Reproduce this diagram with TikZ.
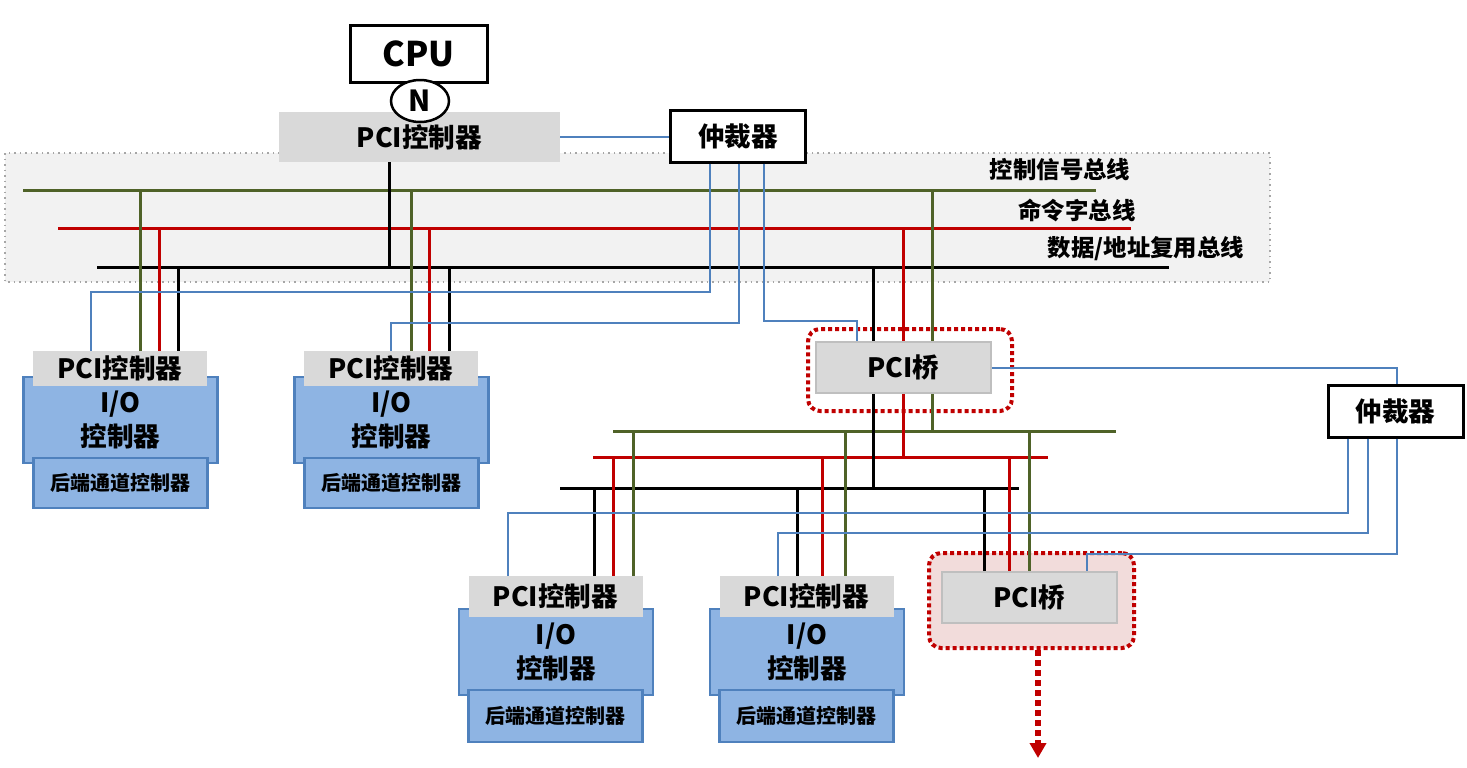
\documentclass[tikz,border=0pt]{standalone}
\usepackage{fontspec}
\setmainfont{Noto Sans CJK SC}
\usetikzlibrary{arrows.meta,shapes.geometric}

\definecolor{busgreen}{HTML}{4F6228}
\definecolor{busred}{HTML}{C00000}
\definecolor{sigblue}{HTML}{4F81BD}
\definecolor{iofill}{HTML}{8EB4E3}
\definecolor{pcgray}{HTML}{D9D9D9}
\definecolor{bggray}{HTML}{F2F2F2}
\definecolor{halopink}{HTML}{F2DCDB}

\begin{document}
\begin{tikzpicture}[x=0.5pt, y=-0.5pt,
	every node/.style={inner sep=0pt, font=\fontsize{13.3}{17}\selectfont\bfseries},
	pcbox/.style={fill=pcgray, minimum width=87pt},
	iobox/.style={fill=iofill, draw=sigblue, line width=1.25pt, minimum width=97pt, minimum height=43pt, align=center},
	backbox/.style={fill=iofill, draw=sigblue, line width=1.25pt, minimum width=87pt, font=\fontsize{10}{12}\selectfont\bfseries},
	bridge/.style={fill=pcgray, draw=black!25, line width=1pt, minimum width=87.5pt, minimum height=25.5pt},
	arbiter/.style={draw, fill=white, line width=1.5pt, minimum width=67.5pt, minimum height=26pt},
	halo/.style={draw=busred, line width=2pt, dash pattern=on 2pt off 1.5pt, rounded corners=6pt},
	buslbl/.style={font=\fontsize{11.7}{14}\selectfont\bfseries},
	gbus/.style={busgreen, line width=1.5pt},
	rbus/.style={busred, line width=1.5pt},
	kbus/.style={black, line width=1.5pt},
	sig/.style={sigblue, line width=1pt}]
	
	\useasboundingbox (0,0) rectangle (1467,767);
	
	% shaded area of the first bus
	\draw[fill=bggray, draw=black!35, line width=0.75pt, dotted] (5,153) rectangle (1270,282);
	
	% marks round the two bridges
	\node[halo, minimum width=102pt, minimum height=41pt] (haloA) at (910,370) {};
	\node[halo, fill=halopink, minimum width=102.5pt, minimum height=47.5pt] (haloB) at (1031.5,600.5) {};
	
	% CPU and host side
	\node[draw, line width=1.5pt, minimum width=68.5pt, minimum height=28.5pt, font=\fontsize{17}{20}\selectfont\bfseries] (cpu) at (418.5,53.5) {CPU};
	\node[pcbox, minimum width=140.5pt, minimum height=25pt] (pcTop) at (419.5,137) {PCI控制器};
	\node[draw, ellipse, fill=white, line width=1.25pt, minimum width=29pt, minimum height=21pt, font=\fontsize{14.5}{16}\selectfont\bfseries] (nport) at (420,101) {N};
	\node[arbiter] (arbA) at (738,136) {仲裁器};
	
	% I/O units on the first bus
	\node[iobox] (ioA) at (120.5,420) {I/O\\控制器};
	\node[pcbox, minimum height=17.5pt] (pcA) at (120,368.5) {PCI控制器};
	\node[backbox, minimum height=25pt] (beA) at (120.5,483) {后端通道控制器};
	\node[iobox] (ioB) at (391.5,420) {I/O\\控制器};
	\node[pcbox, minimum height=17.5pt] (pcB) at (391,368.5) {PCI控制器};
	\node[backbox, minimum height=25pt] (beB) at (391.5,483) {后端通道控制器};
	
	% bridges and second arbiter
	\node[bridge] (bridgeA) at (903.5,367.5) {PCI桥};
	\node[arbiter] (arbB) at (1395.5,411) {仲裁器};
	\node[bridge] (bridgeB) at (1029.5,597.5) {PCI桥};
	
	% I/O units on the second bus
	\node[iobox] (ioC) at (556,652) {I/O\\控制器};
	\node[pcbox, minimum height=20.5pt] (pcC) at (555.5,596.5) {PCI控制器};
	\node[backbox, minimum height=26pt] (beC) at (555.5,716) {后端通道控制器};
	\node[iobox] (ioD) at (807,652) {I/O\\控制器};
	\node[pcbox, minimum height=20.5pt] (pcD) at (806.5,596.5) {PCI控制器};
	\node[backbox, minimum height=26pt] (beD) at (806.5,716) {后端通道控制器};
	
	% bus labels
	\node[buslbl] (lblG) at (1060,170) {控制信号总线};
	\node[buslbl] (lblR) at (1077,210) {命令字总线};
	\node[buslbl] (lblK) at (1146,249) {数据/地址复用总线};
	
	% bus ends
	\coordinate (gT1) at (23,190);   \coordinate (gT2) at (1096,190);
	\coordinate (rT1) at (58,228);   \coordinate (rT2) at (1131,228);
	\coordinate (kT1) at (97,267);   \coordinate (kT2) at (1169,267);
	\coordinate (gB1) at (613,431);  \coordinate (gB2) at (1116,431);
	\coordinate (rB1) at (593,457);  \coordinate (rB2) at (1048,457);
	\coordinate (kB1) at (560,488);  \coordinate (kB2) at (1019,488);
	\coordinate (down) at (1038,758);
	
	% the buses
	\draw[gbus] (gT1) -- (gT2);
	\draw[rbus] (rT1) -- (rT2);
	\draw[kbus] (kT1) -- (kT2);
	\draw[gbus] (gB1) -- (gB2);
	\draw[rbus] (rB1) -- (rB2);
	\draw[kbus] (kB1) -- (kB2);
	
	% taps on the first bus
	\draw[kbus] (389,0 |- pcTop.south) -- (389,0 |- kT1);
	\draw[gbus] (140,0 |- gT1) -- (140,0 |- pcA.north);
	\draw[rbus] (159,0 |- rT1) -- (159,0 |- pcA.north);
	\draw[kbus] (178,0 |- kT1) -- (178,0 |- pcA.north);
	\draw[gbus] (411,0 |- gT1) -- (411,0 |- pcB.north);
	\draw[rbus] (429,0 |- rT1) -- (429,0 |- pcB.north);
	\draw[kbus] (449,0 |- kT1) -- (449,0 |- pcB.north);
	\draw[kbus] (873,0 |- kT1) -- (873,0 |- bridgeA.north);
	\draw[rbus] (903,0 |- rT1) -- (903,0 |- bridgeA.north);
	\draw[gbus] (932,0 |- gT1) -- (932,0 |- bridgeA.north);
	
	% taps on the second bus
	\draw[kbus] (873,0 |- bridgeA.south) -- (873,0 |- kB1);
	\draw[rbus] (903,0 |- bridgeA.south) -- (903,0 |- rB1);
	\draw[gbus] (932,0 |- bridgeA.south) -- (932,0 |- gB1);
	\draw[kbus] (594,0 |- kB1) -- (594,0 |- pcC.north);
	\draw[rbus] (613,0 |- rB1) -- (613,0 |- pcC.north);
	\draw[gbus] (633,0 |- gB1) -- (633,0 |- pcC.north);
	\draw[kbus] (797,0 |- kB1) -- (797,0 |- pcD.north);
	\draw[rbus] (822,0 |- rB1) -- (822,0 |- pcD.north);
	\draw[gbus] (845,0 |- gB1) -- (845,0 |- pcD.north);
	\draw[kbus] (984,0 |- kB1) -- (984,0 |- bridgeB.north);
	\draw[rbus] (1009,0 |- rB1) -- (1009,0 |- bridgeB.north);
	\draw[gbus] (1029,0 |- gB1) -- (1029,0 |- bridgeB.north);
	
	% arbitration lines
	\draw[sig] (pcTop.east) -- (pcTop.east -| arbA.west);
	\draw[sig] (710,0 |- arbA.south) |- (91,292) -- (91,0 |- pcA.north);
	\draw[sig] (739,0 |- arbA.south) |- (391,323) -- (391,0 |- pcB.north);
	\draw[sig] (764,0 |- arbA.south) |- (857,321) -- (857,0 |- bridgeA.north);
	\draw[sig] (bridgeA.east) -| (1397,0 |- arbB.north);
	\draw[sig] (1348,0 |- arbB.south) |- (508,513) -- (508,0 |- pcC.north);
	\draw[sig] (1368,0 |- arbB.south) |- (778,533) -- (778,0 |- pcD.north);
	\draw[sig] (1397,0 |- arbB.south) |- (1087,554) -- (1087,0 |- bridgeB.north);
	
	% on to further buses
	\draw[busred, line width=3pt, dash pattern=on 3pt off 2pt, -{Triangle[width=8pt, length=7.5pt]}] (haloB.south -| down) -- (down);
	
\end{tikzpicture}
\end{document}
